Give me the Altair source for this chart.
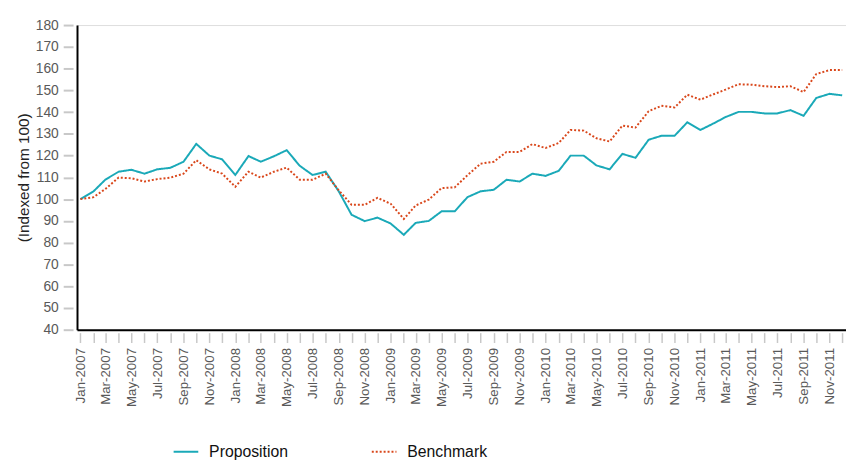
import altair as alt
import pandas as pd

# ---- data ----
months = pd.date_range("2007-01-01", periods=60, freq="MS").strftime("%Y-%m-%d").tolist()

proposition = [100, 103.6, 109, 112.6, 113.5, 111.7, 113.7, 114.4, 117.2, 125.4,
               120, 118.3, 111.1, 119.8, 117.2, 119.7, 122.5, 115.3, 111.1, 112.6,
               103.5, 92.8, 89.9, 91.5, 88.8, 83.6, 89.1, 90, 94.4, 94.4,
               100.9, 103.6, 104.3, 108.9, 108.1, 111.7, 110.7, 113, 120, 120,
               115.5, 113.7, 120.8, 119, 127.3, 129.1, 129.1, 135.3, 131.8, 134.8,
               137.7, 140.1, 140.1, 139.4, 139.4, 140.9, 138.3, 146.5, 148.4, 147.7]

benchmark = [100, 100.9, 104.7, 109.9, 109.6, 108.1, 109.2, 109.9, 111.7, 117.9,
             113.7, 111.7, 105.7, 112.6, 109.9, 112.6, 114.5, 108.9, 108.9, 111.7,
             104, 97.4, 97.4, 100.6, 97.9, 90.9, 97.1, 99.8, 105.1, 105.4,
             111, 116.3, 117.2, 121.7, 121.7, 125.3, 123.5, 125.8, 131.8, 131.5,
             128, 126.5, 133.8, 132.9, 140.4, 142.9, 142.1, 148, 145.7, 148.2,
             150.3, 152.8, 152.6, 151.9, 151.5, 151.9, 149.2, 157.5, 159.3, 159.3]

series_names = ["Proposition", "Benchmark"]
series_colors = ["#1aa9b8", "#d9471b"]
series_dash = [[1, 0], [2, 2]]
y_ticks = list(range(40, 190, 10))
y_title = "(Indexed from 100)"

df = pd.DataFrame({
    "date": months + months,
    "value": proposition + benchmark,
    "series": [series_names[0]] * len(months) + [series_names[1]] * len(months),
})

FONT = "Liberation Sans"

x_scale = alt.Scale(
    type="utc",
    domain=[alt.DateTime(year=2006, month=12, date=24, utc=True),
            alt.DateTime(year=2011, month=12, date=10, utc=True)],
    nice=False,
)
y_scale = alt.Scale(domain=[40, 180], nice=False, zero=False)

legend = alt.Legend(
    title=None, orient="none", legendX=97, legendY=419, direction="horizontal",
    symbolType="stroke", symbolSize=625, symbolStrokeWidth=2,
    labelFontSize=16, labelColor="#111111", labelFont=FONT,
    columnPadding=80, labelOffset=10, padding=0,
)

lines = alt.Chart(df).mark_line(clip=True, strokeWidth=2).encode(
    x=alt.X("date:T", scale=x_scale, axis=alt.Axis(
        orient="bottom", title=None, domain=False, grid=False,
        ticks=True, tickSize=10, tickColor="#c8c8c8", tickWidth=1.5, offset=3,
        labelAngle=-90, labelPadding=5, labelFontSize=13.5, labelColor="#595959",
        labelFont=FONT, labelOverlap=False, labelFlush=False,
        tickCount={"interval": "month", "step": 1},
        labelExpr="utcmonth(datum.value) % 2 == 0 ? utcFormat(datum.value, '%b-%Y') : ''",
    )),
    y=alt.Y("value:Q", scale=y_scale, axis=alt.Axis(
        orient="left", values=y_ticks, title=y_title, domain=False, grid=False,
        ticks=True, tickSize=10, tickColor="#c8c8c8", tickWidth=2, offset=4,
        labelPadding=5, labelFontSize=14, labelColor="#595959", labelFont=FONT,
        titleFont=FONT, titleFontSize=15.5, titleFontWeight="normal",
        titleColor="#222222", titlePadding=4,
    )),
    color=alt.Color("series:N", scale=alt.Scale(domain=series_names, range=series_colors), legend=legend),
    strokeDash=alt.StrokeDash("series:N", scale=alt.Scale(domain=series_names, range=series_dash), legend=legend),
)

frame = alt.Chart(df).mark_line(opacity=0).encode(
    x=alt.X("date:T", scale=x_scale, axis=alt.Axis(
        orient="bottom", title=None, labels=False, ticks=False, grid=False,
        domain=True, domainColor="#000000", domainWidth=2)),
    y=alt.Y("value:Q", scale=y_scale, axis=alt.Axis(
        orient="left", title=None, labels=False, ticks=False, grid=False,
        domain=True, domainColor="#000000", domainWidth=2)),
    detail="series:N",
)

chart = alt.layer(frame, lines).resolve_axis(x="independent", y="independent").properties(
    width=780, height=309,
    autosize=alt.AutoSizeParams(type="none"),
    padding={"left": 70, "top": 14, "right": 0, "bottom": 139},
).configure_view(stroke=None).configure(background="white")

chart.save("out.html", embed_options={"renderer": "svg", "actions": False})
